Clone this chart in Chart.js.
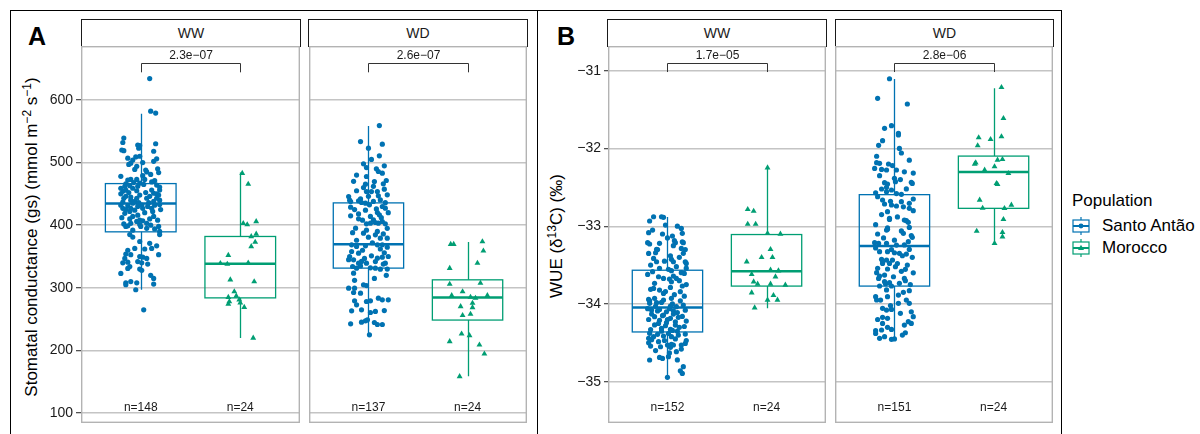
<!DOCTYPE html>
<html><head><meta charset="utf-8">
<script src="https://cdn.jsdelivr.net/npm/chart.js@4.4.1/dist/chart.umd.min.js"></script>
<style>
html,body{margin:0;padding:0;background:#fff;}
body{width:1200px;height:434px;position:relative;overflow:hidden;font-family:'Liberation Sans',Arial,Helvetica,sans-serif;color:#000;}
.frame{position:absolute;border:1px solid #000;box-sizing:border-box;}
.strip{position:absolute;box-sizing:border-box;border:1px solid #1a1a1a;background:#fff;text-align:center;font-size:14px;line-height:26px;color:#1a1a1a;}
.tag{position:absolute;font-weight:bold;font-size:25px;line-height:25px;}
.ytitle{position:absolute;width:420px;height:22px;line-height:22px;text-align:center;font-size:17px;transform:rotate(-90deg);white-space:nowrap;color:#000;}
.ytitle sup{font-size:12px;vertical-align:6px;line-height:0;}
.leg{position:absolute;font-size:17px;line-height:20px;white-space:nowrap;color:#000;}
canvas{position:absolute;}
svg{position:absolute;}
</style></head>
<body>
<div class="frame" style="left:10px;top:10px;width:528px;height:460px;"></div>
<div class="frame" style="left:537px;top:10px;width:525px;height:460px;"></div>

<div class="tag" style="left:28px;top:24px;">A</div>
<div class="tag" style="left:557px;top:24px;">B</div>

<div class="strip" style="left:81px;top:19px;width:220px;height:28px;" id="sA0"></div>
<div class="strip" style="left:308px;top:19px;width:220px;height:28px;" id="sA1"></div>
<div class="strip" style="left:607px;top:19px;width:220px;height:28px;" id="sB0"></div>
<div class="strip" style="left:835px;top:19px;width:219px;height:28px;" id="sB1"></div>

<div class="ytitle" style="left:-178px;top:226px;">Stomatal conductance (gs) (mmol m<sup>−2</sup> s<sup>−1</sup>)</div>
<div class="ytitle" style="left:347px;top:225px;">WUE (δ<sup>13</sup>C) (‰)</div>

<canvas id="cA0" width="290" height="377" style="left:10px;top:46px;"></canvas>
<canvas id="cA1" width="218" height="377" style="left:309px;top:46px;"></canvas>
<canvas id="cB0" width="256" height="377" style="left:570px;top:46px;"></canvas>
<canvas id="cB1" width="218" height="377" style="left:835px;top:46px;"></canvas>

<div class="leg" style="left:1072px;top:191px;">Population</div>
<svg width="20" height="18" style="left:1071px;top:217px;"><line x1="10" y1="0" x2="10" y2="18" stroke="#0072B2" stroke-width="1.2"/><rect x="2" y="3" width="16" height="12" fill="#fff" stroke="#0072B2" stroke-width="1.2"/><line x1="2" y1="9" x2="18" y2="9" stroke="#0072B2" stroke-width="2"/><circle cx="10" cy="9" r="2.4" fill="#0072B2"/></svg>
<svg width="20" height="18" style="left:1071px;top:239px;"><line x1="10" y1="0" x2="10" y2="18" stroke="#009E73" stroke-width="1.2"/><rect x="2" y="3" width="16" height="12" fill="#fff" stroke="#009E73" stroke-width="1.2"/><line x1="2" y1="9" x2="18" y2="9" stroke="#009E73" stroke-width="2"/><polygon points="10,5.8 13,11 7,11" fill="#009E73"/></svg>
<div class="leg" style="left:1102px;top:216px;" id="lg0"></div>
<div class="leg" style="left:1102px;top:238px;" id="lg1"></div>

<script>
// ---------------- data ----------------
const facetNames = ['WW', 'WD'];
const populations = ['Santo Antão', 'Morocco'];
const yTicksA = [100, 200, 300, 400, 500, 600];
const yTicksB = [-35, -34, -33, -32, -31];
const pValuesA = ['2.3e−07', '2.6e−07'];
const pValuesB = ['1.7e−05', '2.8e−06'];
const nA_WW = [148, 24];
const nA_WD = [137, 24];
const nB_WW = [152, 24];
const nB_WD = [151, 24];

// box stats: [lower whisker, Q1, median, Q3, upper whisker]
const boxA_WW_SA = [297, 389.4, 434.6, 466.4, 577.7];
const boxA_WW_MO = [220, 284, 338.3, 382, 484];
const boxA_WD_SA = [224.6, 331.5, 369.7, 435.6, 558.5];
const boxA_WD_MO = [159, 248.6, 284.7, 312.8, 373];
const boxB_WW_SA = [-34.94, -34.36, -34.047, -33.566, -32.88];
const boxB_WW_MO = [-34.055, -33.77, -33.579, -33.107, -32.244];
const boxB_WD_SA = [-34.45, -33.77, -33.254, -32.594, -31.107];
const boxB_WD_MO = [-33.23, -32.77, -32.304, -32.098, -31.226];

// jittered observations: [jitter offset, value]
const ptsA_WW_SA = [[-0.17,539],[-0.18,532],[-0.19,520],[-0.17,519],[-0.03,528],[-0.01,527],[-0.02,523],[0.15,530],[0.13,518],[0.13,502],[0.16,506],[-0.13,507],[-0.08,504],[-0.1,499],[-0.12,497],[-0.05,509],[-0.01,510],[0.02,500],[-0.06,489],[0.05,488],[0.1,481],[0.18,484],[0.02,479],[-0.13,472],[-0.1,473],[-0.04,473],[0.04,473],[-0.01,467],[0.14,471],[-0.16,462],[-0.15,456],[-0.18,454],[-0.2,459],[-0.11,463],[-0.08,459],[-0.03,462],[0.16,464],[0.19,456],[0.11,456],[0.13,451],[0.18,448],[0.09,446],[-0.17,443],[-0.15,446],[-0.1,445],[-0.04,443],[-0.01,448],[0.06,443],[0.13,438],[0.19,440],[0.16,443],[-0.2,432],[-0.18,427],[-0.13,431],[-0.1,427],[-0.08,435],[-0.06,438],[-0.03,430],[0.01,432],[0.02,427],[0.07,430],[0.11,427],[0.14,432],[-0.16,419],[-0.11,422],[-0.08,414],[-0.01,408],[0.02,407],[0.06,403],[0.13,414],[-0.15,398],[-0.13,399],[-0.1,403],[-0.04,406],[-0.01,401],[0.06,395],[0.18,398],[0.19,390],[0.19,385],[-0.11,385],[-0.08,381],[-0.01,374],[-0.06,363],[0.09,371],[0.11,363],[0.16,367],[-0.15,354],[-0.16,347],[-0.1,353],[-0.01,350],[0.02,349],[0.06,347],[-0.13,341],[-0.11,334],[-0.13,331],[-0.03,342],[0.01,340],[0.07,338],[-0.01,330],[0.01,328],[0.18,353],[-0.2,323],[-0.15,308],[-0.15,305],[-0.1,310],[-0.04,308],[-0.05,297],[0.13,315],[0.13,306],[0.03,265],[0.09,634],[0.1,582],[0.15,579],
[-0.15,466],[-0.07,468],[0.03,465],[0.11,469],[0.19,461],[-0.2,450],[-0.12,452],[-0.04,455],[0.05,452],[0.16,450],[-0.18,437],[-0.1,440],[-0.02,436],[0.08,436],[0.19,433],[-0.15,425],[-0.06,424],[0.04,420],[0.12,422],[0.2,425],[-0.19,412],[-0.11,410],[-0.03,416],[0.09,410],[0.17,408],[-0.17,402],[0,398],[0.1,400],[-0.08,392],[0.14,394],[-0.2,478],[0.06,485],[-0.04,494],[0.17,490],[-0.13,360],[0.04,362],[-0.18,340],[0.1,320]];
const ptsA_WW_MO = [[0.02,483],[0.08,465.5],[0.03,403],[0.07,401],[0.16,406],[0.11,382],[0.16,386],[0.15,373],[0.11,366],[-0.12,352],[-0.2,339],[-0.13,338],[0.08,340],[-0.1,313],[0.14,310],[-0.06,294],[-0.12,285],[-0.04,287],[-0.11,278],[-0.12,274],[-0.01,281],[0,276],[0.04,269],[0.13,220]];
const ptsA_WD_SA = [[0.11,559],[-0.08,533.5],[0,522.9],[0.14,529.3],[0.11,510.7],[0.16,494.7],[-0.02,492],[0.1,485.7],[0.14,483],[0.18,471.3],[-0.02,477.7],[0.06,469.7],[-0.03,465.4],[0.16,457.5],[-0.02,453.7],[0.03,453.7],[0.09,453.7],[0.19,448.4],[-0.2,445.8],[-0.1,438.9],[-0.18,437.8],[-0.07,436.2],[-0.03,435.1],[0.01,432.5],[0.12,440.4],[0.14,429.8],[0.17,427.1],[-0.18,428.7],[0.09,420.2],[0.11,416.5],[-0.1,410.1],[0.05,408.5],[-0.02,402.2],[0.02,403.2],[0.07,404.3],[0.1,403.2],[0.14,405.9],[0.17,402.2],[-0.13,395.2],[-0.05,387.3],[0,380.9],[0.07,384.6],[0.12,379.3],[0.19,379.3],[-0.17,368.6],[-0.12,366],[-0.03,367],[0.09,368.6],[0.14,368.6],[0.19,364.9],[-0.17,358],[-0.1,355.3],[-0.19,350],[-0.15,344.7],[-0.1,339.4],[-0.07,342.1],[-0.02,339.4],[0.03,351.1],[0.09,347.4],[0.14,349],[0.2,350],[0.17,339.4],[-0.16,334.1],[-0.12,331.4],[0.07,331.4],[0.12,329.8],[-0.15,323.4],[-0.05,304.8],[-0.02,303.7],[-0.2,299.5],[-0.14,299.5],[-0.15,292.6],[-0.08,291.5],[-0.02,278.2],[0.02,279.3],[0.1,283.5],[0.14,280.9],[0.2,280.9],[-0.14,279.3],[-0.12,272.9],[-0.17,263.3],[-0.07,264.9],[0.02,260.7],[0.07,262.3],[0.16,263.8],[-0.18,242.6],[-0.07,245.2],[-0.03,247.4],[-0.01,249],[0.06,244.7],[0.09,241.5],[0.14,241.5],[0.01,225],
[-0.15,470],[-0.05,460],[0.05,462],[0.15,466],[-0.12,455],[0,446],[0.1,447],[-0.19,440],[-0.08,442],[0.05,438],[0.17,436],[-0.14,425],[-0.03,424],[0.08,426],[0.2,420],[-0.18,415],[-0.1,418],[0.02,414],[0.13,412],[-0.06,408],[0.19,395],[-0.16,388],[-0.02,392],[0.09,390],[0.15,386],[-0.12,376],[0.04,372],[0.12,362],[-0.06,360],[0.16,356],[-0.2,345],[-0.04,347],[0.07,342],[0.15,338],[-0.08,335],[0.02,332],[0.19,330],[-0.14,312],[0.06,315],[0.18,320],[-0.05,498],[0.08,490],[-0.12,480],[0.03,505]];
const ptsA_WD_MO = [[-0.17,369.7],[-0.14,369.7],[0.15,373.9],[0.16,359],[0.1,339.4],[-0.18,331.4],[-0.18,305.9],[0.13,307.5],[-0.05,294.1],[-0.16,287.8],[0.03,285.2],[0.08,283.6],[0.2,287.8],[-0.07,270.2],[0.05,275.6],[0.05,268.7],[-0.05,256],[0.03,258],[-0.06,226.6],[0.02,224],[-0.18,214.4],[0.12,209.1],[0.17,194.7],[-0.08,158.5]];
const ptsB_WW_SA = [[-0.14,-32.878],[-0.18,-32.933],[-0.06,-32.878],[-0.04,-32.886],[-0.02,-32.985],[0.14,-33.028],[0.15,-33.092],[-0.19,-33.083],[0.05,-33.126],[0.07,-33.186],[0.08,-33.212],[0.16,-33.212],[-0.2,-33.212],[-0.18,-33.229],[-0.11,-33.298],[-0.12,-33.341],[0.14,-33.285],[0.16,-33.349],[-0.14,-33.414],[-0.11,-33.457],[0.04,-33.426],[0.06,-33.457],[0.18,-33.457],[0.19,-33.478],[-0.08,-33.542],[0.01,-33.555],[0.04,-33.572],[-0.15,-33.585],[0.14,-33.598],[0.17,-33.607],[0.06,-33.641],[0.09,-33.671],[-0.04,-33.671],[-0.13,-33.735],[0.04,-33.714],[0.03,-33.787],[0.15,-33.769],[-0.08,-33.821],[-0.17,-33.812],[-0.04,-33.864],[0.13,-33.842],[-0.19,-33.941],[-0.13,-33.928],[-0.04,-33.95],[0.04,-33.928],[-0.18,-33.992],[-0.11,-33.984],[0.03,-34.027],[0.09,-34.035],[0.16,-34.014],[-0.16,-34.078],[-0.08,-34.07],[-0.01,-34.1],[0.06,-34.087],[-0.13,-34.164],[-0.04,-34.142],[0.03,-34.185],[0.11,-34.172],[-0.09,-34.25],[-0.01,-34.241],[0.08,-34.271],[-0.06,-34.314],[0.03,-34.327],[-0.18,-34.378],[-0.14,-34.421],[-0.04,-34.412],[0.04,-34.421],[0.18,-34.387],[-0.19,-34.442],[-0.17,-34.541],[-0.09,-34.485],[0,-34.528],[0.03,-34.558],[0.06,-34.528],[0.14,-34.528],[0.18,-34.507],[0.09,-34.614],[-0.08,-34.687],[-0.18,-34.721],[0.01,-34.678],[0.16,-34.807],[0.15,-34.893],[0,-34.944],
[-0.2,-33.62],[-0.09,-33.65],[0.02,-33.68],[0.12,-33.7],[0.19,-33.75],[-0.14,-33.8],[-0.02,-33.84],[0.07,-33.88],[0.17,-33.9],[-0.18,-33.96],[-0.06,-33.98],[0.05,-34.0],[0.13,-33.96],[-0.12,-34.03],
[-0.2,-34.06],[-0.1,-34.09],[0.02,-34.06],[0.1,-34.11],[0.18,-34.08],[-0.16,-34.13],[-0.05,-34.15],[0.06,-34.13],[0.15,-34.16],[-0.19,-34.2],[-0.08,-34.21],[0,-34.2],[0.08,-34.23],[0.19,-34.22],[-0.13,-34.27],[-0.02,-34.28],[0.12,-34.3],[0.17,-34.29],[-0.17,-34.33],[0.05,-34.34],[-0.06,-34.35],[0.1,-34.35],
[-0.1,-34.39],[0.01,-34.38],[0.11,-34.4],[-0.16,-34.46],[-0.03,-34.47],[0.08,-34.45],[0.19,-34.47],[-0.19,-34.5],[-0.07,-34.55],[0.04,-34.52],[0.14,-34.58],[-0.12,-34.6],[0.02,-34.63],[-0.05,-34.7],[0.1,-34.72],[0.13,-34.86],
[-0.15,-33.05],[0.1,-33.0],[0,-33.15],[-0.08,-33.22],[0.18,-33.3],[-0.19,-33.35],[0.03,-33.38],[0.12,-33.4],[-0.03,-33.45],[-0.17,-33.5],[0.09,-33.52],[0.19,-33.54],[-0.1,-33.3],[0.06,-33.25],[-0.05,-33.1],[0.15,-33.2]];
const ptsB_WW_MO = [[0.01,-32.248],[-0.19,-32.783],[-0.13,-32.805],[-0.19,-32.972],[-0.11,-32.972],[0.01,-33.092],[0.14,-33.1],[0.04,-33.297],[-0.05,-33.4],[0.06,-33.4],[-0.2,-33.457],[0.04,-33.563],[0.12,-33.572],[-0.15,-33.619],[0.09,-33.65],[-0.13,-33.714],[-0.09,-33.743],[0.04,-33.743],[0.19,-33.756],[-0.15,-33.855],[0.07,-33.889],[0.01,-33.949],[0.11,-33.949],[-0.12,-34.048]];
const ptsB_WD_SA = [[-0.05,-31.103],[-0.17,-31.355],[0.13,-31.428],[-0.1,-31.741],[-0.03,-31.707],[0.04,-31.806],[0.04,-31.827],[-0.16,-31.96],[0.07,-32.058],[-0.18,-32.183],[-0.15,-32.191],[-0.06,-32.2],[-0.2,-32.256],[-0.13,-32.269],[-0.08,-32.277],[0.02,-32.277],[0.19,-32.316],[0,-32.384],[0.01,-32.427],[-0.1,-32.44],[-0.07,-32.457],[0.17,-32.436],[-0.13,-32.521],[-0.03,-32.534],[0.07,-32.59],[-0.08,-32.556],[-0.12,-32.663],[-0.1,-32.714],[-0.03,-32.727],[0.07,-32.684],[0.15,-32.706],[0.19,-32.65],[-0.07,-32.813],[0.02,-32.74],[0.15,-32.77],[-0.05,-32.899],[0.1,-32.92],
[-0.05,-32.912],[0.12,-32.929],[0.15,-33.015],[0.09,-33.092],[-0.17,-33.1],[-0.08,-33.049],[-0.07,-33.04],[0.18,-33.143],[0.14,-33.199],[-0.2,-33.212],[-0.08,-33.22],[0.02,-33.242],[0.15,-33.298],[-0.15,-33.328],[-0.07,-33.328],[0.05,-33.349],[0.12,-33.358],[0,-33.341],[-0.13,-33.426],[-0.08,-33.435],[-0.02,-33.435],[-0.12,-33.478],[-0.05,-33.478],[-0.17,-33.542],[0.01,-33.52],[0.11,-33.555],[-0.18,-33.598],[-0.1,-33.628],[-0.16,-33.671],[0.1,-33.671],[-0.1,-33.713],[-0.05,-33.726],[-0.15,-33.769],[-0.03,-33.769],[0.05,-33.735],[-0.19,-33.906],[-0.07,-33.906],[-0.18,-33.949],[0.04,-33.885],[0.15,-33.829],[0.15,-33.992],[-0.12,-34.056],[-0.08,-34.078],[-0.03,-34.07],[0.04,-33.992],[0.17,-34.1],[0.19,-34.164],[-0.12,-34.172],[-0.07,-34.185],[0.14,-34.228],[0.1,-34.271],[-0.19,-34.344],[-0.13,-34.335],[-0.03,-34.327],[0.11,-34.37],[-0.15,-34.442],[-0.1,-34.421],[-0.03,-34.455],
[-0.12,-31.9],[0.05,-32.0],[-0.18,-32.1],[0.15,-32.15],[-0.02,-32.22],[0.1,-32.3],[-0.15,-32.35],[0.06,-32.4],[0.18,-32.45],[-0.08,-32.5],[0.12,-32.52],[-0.19,-32.57],[0.02,-32.58],
[-0.17,-32.62],[-0.04,-32.68],[0.09,-32.75],[0.19,-32.8],[-0.13,-32.85],[0.03,-32.88],[0.14,-32.95],[-0.19,-32.98],[-0.07,-33.02],[0.07,-33.06],[0.17,-33.12],[-0.11,-33.15],[0,-33.18],[-0.16,-33.22],[0.1,-33.24],
[-0.19,-33.28],[-0.03,-33.3],[0.08,-33.38],[0.18,-33.4],[-0.12,-33.45],[0.03,-33.48],[0.13,-33.5],[-0.07,-33.55],[0.07,-33.58],[0.19,-33.6],[-0.15,-33.64],[-0.01,-33.65],[0.11,-33.7],[-0.09,-33.74],[0.16,-33.75],
[-0.08,-33.82],[0.09,-33.85],[-0.14,-33.95],[0.12,-33.95],[-0.04,-34.02],[0.06,-34.12],[-0.17,-34.2],[0.17,-34.25],[-0.07,-34.3],[0.08,-34.4],[-0.19,-34.38],[0,-34.45],[-0.12,-34.25]];
const ptsB_WD_MO = [[0.08,-31.214],[0.1,-31.613],[-0.15,-31.861],[-0.03,-31.883],[0.08,-31.848],[-0.16,-31.964],[0.04,-32.148],[0.09,-32.14],[-0.18,-32.183],[-0.19,-32.2],[-0.09,-32.277],[0.01,-32.234],[0.15,-32.32],[0.03,-32.448],[0.04,-32.461],[-0.14,-32.663],[-0.11,-32.766],[0.11,-32.77],[0.18,-32.727],[0.1,-32.912],[-0.17,-33.062],[0.09,-33.079],[0.09,-33.135],[0.01,-33.22]];

// ---------------- rendering ----------------
const FONT = "'Liberation Sans', Arial, Helvetica, sans-serif";
const COLORS = ['#0072B2', '#009E73'];

document.getElementById('sA0').textContent = facetNames[0];
document.getElementById('sA1').textContent = facetNames[1];
document.getElementById('sB0').textContent = facetNames[0];
document.getElementById('sB1').textContent = facetNames[1];
document.getElementById('lg0').textContent = populations[0];
document.getElementById('lg1').textContent = populations[1];

const fmtA = v => String(v);
const fmtB = v => (v < 0 ? '−' : '') + Math.abs(v);

const facets = [
  {canvas:'cA0', axisW:71, tickLen:5, min:84.3, max:686, ticks:yTicksA, fmt:fmtA, sa:ptsA_WW_SA, mo:ptsA_WW_MO, boxes:[boxA_WW_SA, boxA_WW_MO], p:pValuesA[0], n:nA_WW, brTop:658.6, brTick:644, pY:670.7, nY:108.5},
  {canvas:'cA1', axisW:0, tickLen:5, min:84.3, max:686, ticks:yTicksA, fmt:fmtA, sa:ptsA_WD_SA, mo:ptsA_WD_MO, boxes:[boxA_WD_SA, boxA_WD_MO], p:pValuesA[1], n:nA_WD, brTop:658.6, brTick:644, pY:670.7, nY:108.5},
  {canvas:'cB0', axisW:38, tickLen:4, min:-35.531, max:-30.682, ticks:yTicksB, fmt:fmtB, sa:ptsB_WW_SA, mo:ptsB_WW_MO, boxes:[boxB_WW_SA, boxB_WW_MO], p:pValuesB[0], n:nB_WW, brTop:-30.905, brTick:-31.017, pY:-30.807, nY:-35.338},
  {canvas:'cB1', axisW:0, tickLen:4, min:-35.531, max:-30.682, ticks:yTicksB, fmt:fmtB, sa:ptsB_WD_SA, mo:ptsB_WD_MO, boxes:[boxB_WD_SA, boxB_WD_MO], p:pValuesB[1], n:nB_WD, brTop:-30.905, brTick:-31.017, pY:-30.807, nY:-35.338}
];

function makeDecor(f) {
  return {
    id: 'facetDecor',
    beforeDatasetsDraw(chart) {
      const ctx = chart.ctx, xs = chart.scales.x, ys = chart.scales.y;
      ctx.save();
      f.boxes.forEach((b, i) => {
        const c = i + 1;
        const [lo, q1, med, q3, hi] = b;
        const xl = xs.getPixelForValue(c - 0.355), xr = xs.getPixelForValue(c + 0.355), xc = Math.round(xs.getPixelForValue(c)) + 0.5;
        const yLo = ys.getPixelForValue(lo), yQ1 = ys.getPixelForValue(q1), yMed = ys.getPixelForValue(med), yQ3 = ys.getPixelForValue(q3), yHi = ys.getPixelForValue(hi);
        ctx.strokeStyle = COLORS[i];
        ctx.lineWidth = 1.3;
        ctx.beginPath();
        ctx.moveTo(xc, yHi); ctx.lineTo(xc, yQ3);
        ctx.moveTo(xc, yQ1); ctx.lineTo(xc, yLo);
        ctx.stroke();
        ctx.strokeRect(xl, yQ3, xr - xl, yQ1 - yQ3);
        ctx.lineWidth = 2.5;
        ctx.beginPath(); ctx.moveTo(xl, yMed); ctx.lineTo(xr, yMed); ctx.stroke();
      });
      ctx.restore();
    },
    afterDraw(chart) {
      const ctx = chart.ctx, a = chart.chartArea, xs = chart.scales.x, ys = chart.scales.y;
      ctx.save();
      ctx.strokeStyle = '#b3b3b3'; ctx.lineWidth = 1.4;
      ctx.strokeRect(a.left + 0.7, a.top + 0.7, a.right - a.left - 1.4, a.bottom - a.top - 1.4);
      const x1 = Math.round(xs.getPixelForValue(1)) + 0.5, x2 = Math.round(xs.getPixelForValue(2)) + 0.5;
      const yt = Math.round(ys.getPixelForValue(f.brTop)) + 0.5, yb = ys.getPixelForValue(f.brTick);
      ctx.strokeStyle = '#333333'; ctx.lineWidth = 1;
      ctx.beginPath(); ctx.moveTo(x1, yb); ctx.lineTo(x1, yt); ctx.lineTo(x2, yt); ctx.lineTo(x2, yb); ctx.stroke();
      ctx.fillStyle = '#1a1a1a'; ctx.font = '12px ' + FONT; ctx.textAlign = 'center'; ctx.textBaseline = 'middle';
      ctx.fillText(f.p, (x1 + x2) / 2, ys.getPixelForValue(f.pY));
      f.n.forEach((cnt, i) => ctx.fillText('n=' + cnt, xs.getPixelForValue(i + 1), ys.getPixelForValue(f.nY)));
      ctx.restore();
    }
  };
}

facets.forEach(f => {
  const showTicks = f.axisW > 0;
  new Chart(document.getElementById(f.canvas), {
    type: 'scatter',
    data: {
      datasets: [
        {label: populations[0], data: f.sa.map(([dx, y]) => ({x: 1 + dx, y})), pointStyle: 'circle', pointRadius: 2.6, backgroundColor: COLORS[0], borderWidth: 0},
        {label: populations[1], data: f.mo.map(([dx, y]) => ({x: 2 + dx, y})), pointStyle: 'triangle', pointRadius: 3.4, backgroundColor: COLORS[1], borderWidth: 0}
      ]
    },
    options: {
      responsive: false, animation: false, devicePixelRatio: 1, events: [],
      layout: {padding: 0, autoPadding: false},
      plugins: {legend: {display: false}, tooltip: {enabled: false}},
      scales: {
        x: {type: 'linear', min: 0.4, max: 2.6, display: false},
        y: {
          type: 'linear', min: f.min, max: f.max, position: 'left',
          afterBuildTicks: s => { s.ticks = f.ticks.map(v => ({value: v})); },
          afterFit: s => { s.width = f.axisW; s.paddingTop = 0; s.paddingBottom = 0; },
          border: {display: false},
          grid: {color: '#c4c4c4', lineWidth: 1.4, drawTicks: showTicks, tickLength: f.tickLen, tickColor: '#333333', tickWidth: 1.1},
          ticks: {display: showTicks, padding: 3, color: '#1a1a1a', font: {family: FONT, size: 14}, callback: v => f.fmt(v)}
        }
      }
    },
    plugins: [makeDecor(f)]
  });
});
</script>
</body></html>
